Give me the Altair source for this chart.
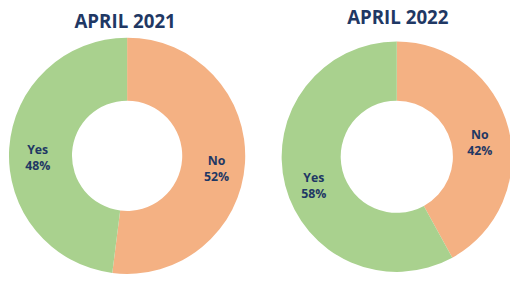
import altair as alt
import pandas as pd

categories = ["No", "Yes"]
values_2021 = [52, 48]
values_2022 = [42, 58]
titles = ["APRIL 2021", "APRIL 2022"]

NAVY = "#1F3864"
FONT = "Open Sans"

color = alt.Color(
    "cat:N",
    scale=alt.Scale(domain=categories, range=["#F4B183", "#A9D18E"]),
    legend=None,
)


def make_df(values):
    return pd.DataFrame({
        "cat": categories,
        "value": values,
        "order": list(range(len(categories))),
        "label": [f"{c}\n{v}%" for c, v in zip(categories, values)],
    })


def donut(df, cx, cy, ro, ri, rl):
    base = alt.Chart(df).encode(
        theta=alt.Theta("value:Q", stack=True),
        order=alt.Order("order:Q"),
        x=alt.value(cx),
        y=alt.value(cy),
    )
    arc = base.mark_arc(radius=ro, radius2=ri).encode(color=color)
    text = base.mark_text(
        radius=rl, font=FONT, fontSize=12.5, fontWeight="bold", color=NAVY,
        lineBreak="\n", lineHeight=16, baseline="middle",
    ).encode(text="label:N")
    return alt.layer(arc, text)


def title(t, x, y):
    return alt.Chart(pd.DataFrame({"t": [t]})).mark_text(
        font=FONT, fontSize=19, fontWeight="bold", color=NAVY,
        baseline="alphabetic", align="center",
    ).encode(text="t:N", x=alt.value(x), y=alt.value(y))


chart = alt.layer(
    donut(make_df(values_2021), 121, 148, 120, 56, 91),
    donut(make_df(values_2022), 395, 149, 117, 57, 87),
    title(titles[0], 119, 18),
    title(titles[1], 396, 14.5),
).resolve_scale(theta="independent").properties(
    width=510, height=266, autosize=alt.AutoSizeParams(type="none"), padding=0,
).configure_view(stroke=None)

chart.save("out.html", embed_options={"renderer": "svg", "actions": False})
